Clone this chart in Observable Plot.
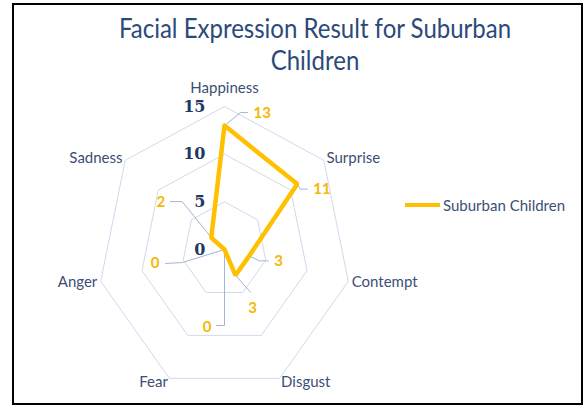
<!DOCTYPE html>
<html><head><meta charset="utf-8">
<script src="https://cdn.jsdelivr.net/npm/d3@7"></script>
<script src="https://cdn.jsdelivr.net/npm/@observablehq/plot@0.6"></script>
<style>
body{margin:0;background:#fff;}
#wrap{position:relative;width:585px;height:407px;overflow:hidden;font-family:Lato,sans-serif;}
#frame{position:absolute;left:12px;top:3px;width:571px;height:402px;border:2px solid #000;box-sizing:border-box;pointer-events:none;}
#title{position:absolute;left:15px;width:600px;top:12px;text-align:center;font-size:24px;line-height:29px;color:#2b4a7a;transform:scaleY(1.1);transform-origin:top;}
#legend{position:absolute;left:405px;top:196px;height:18px;display:flex;align-items:center;font-size:15px;color:#3b4f75;}
#legend .sw{width:35px;height:4px;background:#ffc000;margin-right:3px;}
#chart{position:absolute;left:0;top:0;}
</style></head>
<body>
<div id="wrap">
  <div id="chart"></div>
  <div id="title"></div>
  <div id="legend"><span class="sw"></span><span id="legtext"></span></div>
  <div id="frame"></div>
</div>
<script>
// ---- data ----
const categories = ["Happiness", "Surprise", "Contempt", "Disgust", "Fear", "Anger", "Sadness"];
const values = [13, 11, 3, 3, 0, 0, 2];
const gridLevels = [5, 10, 15];
const tickLabels = [0, 5, 10, 15];
const seriesName = "Suburban Children";
const titleLines = ["Facial Expression Result for Suburban", "Children"];

// ---- layout (pixel offsets for data labels and leaders) ----
const labelLayout = {
  Happiness: {elbow: [16, -13], end: [23, -13], text: [29, -12], anchor: "start"},
  Surprise:  {elbow: [3, 5],    end: [10, 5],   text: [16, 5],   anchor: "start"},
  Contempt:  {elbow: [10, 5],   end: [19, 5],   text: [25, 5],   anchor: "start"},
  Disgust:   {elbow: [15, 17],  end: [15, 17],  text: [17, 33],  anchor: "middle"},
  Fear:      {elbow: [0, 76],   end: [-8, 76],  text: [-13, 78], anchor: "end"},
  Anger:     {elbow: [-42, 13], end: [-59, 14], text: [-65, 14], anchor: "end"},
  Sadness:   {elbow: [-29, -36], end: [-41, -36], text: [-46, -35], anchor: "end"}
};

document.getElementById("title").innerHTML = titleLines.join("<br>");
document.getElementById("legtext").textContent = seriesName;

const maxR = 15;
const xRange = [97, 351], yRange = [392, 106];
const kx = (2 * maxR) / (xRange[1] - xRange[0]);
const ky = (2 * maxR) / (yRange[0] - yRange[1]);
const n = categories.length;
const ang = i => 2 * Math.PI * i / n;
const px = (r, i) => r * Math.sin(ang(i));
const py = (r, i) => r * Math.cos(ang(i));

// grid polygons
const grid = [];
for (const lv of gridLevels) for (let i = 0; i <= n; i++) grid.push({lv, x: px(lv, i % n), y: py(lv, i % n)});

// series polygon
const series = [];
for (let i = 0; i <= n; i++) series.push({x: px(values[i % n], i % n), y: py(values[i % n], i % n)});

// axis labels
const labelR = maxR * 1.027;
const axisLabels = categories.map((c, i) => ({c, i, x: px(labelR, i), y: py(labelR, i)}));
const sideOf = d => d.i === 0 ? "top" : (d.i <= n / 2 ? "right" : "left");

// leaders and data labels
const leaders = [], dataLabels = [];
categories.forEach((c, i) => {
  const L = labelLayout[c];
  const x0 = px(values[i], i), y0 = py(values[i], i);
  const off = p => ({c, x: x0 + p[0] * kx, y: y0 - p[1] * ky});
  leaders.push({c, x: x0, y: y0}, off(L.elbow), off(L.end));
  dataLabels.push({...off(L.text), v: values[i], anchor: L.anchor});
});

const labelFont = {fontFamily: "Lato, sans-serif", fontSize: 15, fill: "#3b4f75"};
const dlFont = {fontFamily: "Lato, sans-serif", fontSize: 15, fontWeight: 700, fill: "#f5b800", text: "v"};

const chart = Plot.plot({
  width: 585, height: 407, margin: 0,
  x: {domain: [-maxR, maxR], range: xRange, axis: null},
  y: {domain: [-maxR, maxR], range: yRange, axis: null},
  marks: [
    Plot.line(grid, {x: "x", y: "y", z: "lv", stroke: "#cfdaec", strokeWidth: 1}),
    Plot.line(leaders, {x: "x", y: "y", z: "c", stroke: "#a3b5d6", strokeWidth: 1}),
    Plot.line(series, {x: "x", y: "y", stroke: "#ffc000", strokeWidth: 4.5, strokeLinejoin: "miter"}),
    Plot.text(tickLabels, {x: 0, y: d => d, text: d => String(d), textAnchor: "end", dx: -19,
      fontFamily: "DejaVu Serif", fontWeight: "bold", fontSize: 16, fill: "#1f3864"}),
    Plot.text(axisLabels.filter(d => sideOf(d) === "top"), {x: "x", y: "y", text: "c", textAnchor: "middle", dy: -14, ...labelFont}),
    Plot.text(axisLabels.filter(d => sideOf(d) === "right"), {x: "x", y: "y", text: "c", textAnchor: "start", ...labelFont}),
    Plot.text(axisLabels.filter(d => sideOf(d) === "left"), {x: "x", y: "y", text: "c", textAnchor: "end", ...labelFont}),
    Plot.text(dataLabels.filter(d => d.anchor === "start"), {x: "x", y: "y", textAnchor: "start", ...dlFont}),
    Plot.text(dataLabels.filter(d => d.anchor === "middle"), {x: "x", y: "y", textAnchor: "middle", ...dlFont}),
    Plot.text(dataLabels.filter(d => d.anchor === "end"), {x: "x", y: "y", textAnchor: "end", ...dlFont})
  ]
});
document.getElementById("chart").appendChild(chart);
</script>
</body></html>
